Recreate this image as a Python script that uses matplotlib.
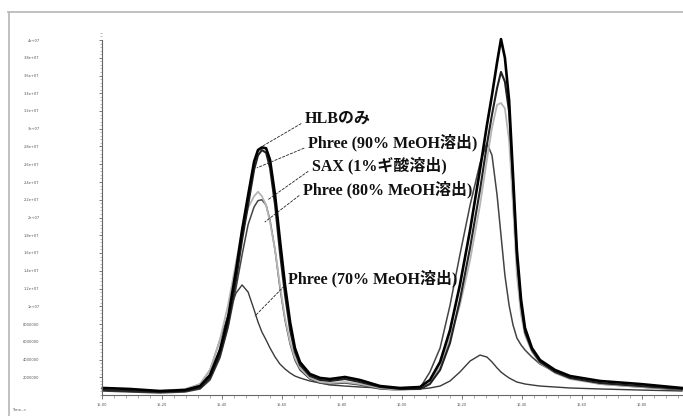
import numpy as np
import matplotlib
matplotlib.use("Agg")
import matplotlib.pyplot as plt
from matplotlib.lines import Line2D
from matplotlib.ticker import MultipleLocator, FuncFormatter

# retention time (min), shared by all traces
time = [15.003, 15.093, 15.193, 15.277, 15.327, 15.360, 15.393, 15.420, 15.447,
        15.467, 15.487, 15.507, 15.520, 15.533, 15.547, 15.560, 15.577, 15.593,
        15.610, 15.627, 15.643, 15.660, 15.693, 15.727, 15.760, 15.810, 15.860,
        15.927, 15.993, 16.060, 16.093, 16.127, 16.160, 16.193, 16.227, 16.260,
        16.283, 16.300, 16.317, 16.330, 16.343, 16.357, 16.370, 16.383, 16.397,
        16.410, 16.433, 16.460, 16.510, 16.560, 16.660, 16.793, 16.933]

# abundance, x1e6 counts
hlb = [0.79, 0.68, 0.45, 0.56, 1.01, 2.25, 5.07, 8.68, 14.1, 18.6, 22.5, 26.3,
       27.6, 27.9, 27.8, 26.5, 22.5, 17.5, 12.4, 8.2, 5.3, 3.7, 2.37, 1.92,
       1.80, 2.03, 1.69, 1.01, 0.79, 0.9, 1.69, 3.72, 7.3, 12.4, 18.6, 25.4,
       30.4, 33.8, 37.5, 40.1, 38.0, 33.2, 24.8, 16.3, 10.7, 7.55, 5.3, 3.94,
       2.82, 2.14, 1.58, 1.24, 0.79]
phree90 = [0.56, 0.45, 0.34, 0.45, 0.79, 1.92, 4.5, 7.9, 13.0, 17.5, 21.4, 25.4,
           27.0, 27.6, 27.3, 25.6, 21.4, 16.1, 11.3, 7.3, 4.85, 3.38, 2.14, 1.69,
           1.58, 1.80, 1.46, 0.9, 0.68, 0.68, 1.24, 2.82, 5.86, 10.7, 16.6, 23.1,
           28.2, 31.6, 34.6, 36.4, 35.3, 31.9, 24.0, 15.4, 10.1, 7.1, 5.07, 3.72,
           2.59, 1.92, 1.35, 1.01, 0.68]
sax = [0.68, 0.56, 0.45, 0.68, 1.24, 2.82, 6.2, 10.1, 15.0, 18.6, 21.1, 22.4,
       22.9, 22.4, 21.4, 19.5, 16.3, 12.4, 8.68, 5.97, 4.17, 3.04, 1.92, 1.46,
       1.35, 1.46, 1.24, 0.79, 0.56, 0.68, 1.35, 3.16, 6.42, 10.1, 15.2, 21.4,
       26.5, 30.1, 32.7, 32.9, 32.3, 28.7, 21.4, 13.5, 9.0, 6.76, 4.85, 3.6,
       2.48, 1.8, 1.24, 0.9, 0.68]
phree80 = [0.45, 0.34, 0.23, 0.34, 0.68, 1.69, 4.17, 7.55, 12.1, 15.8, 19.2, 21.2,
           21.9, 22.0, 21.4, 19.7, 16.3, 12.1, 8.45, 5.75, 3.94, 2.82, 1.8, 1.35,
           1.24, 1.35, 1.13, 0.68, 0.56, 0.79, 2.59, 5.3, 10.1, 15.8, 21.4, 26.1,
           28.4, 27.0, 22.5, 18.0, 13.5, 10.1, 7.9, 6.42, 5.63, 5.07, 4.28, 3.49,
           2.59, 1.92, 1.24, 0.9, 0.56]
phree70 = [0.56, 0.45, 0.34, 0.56, 1.24, 2.82, 6.2, 9.0, 11.5, 12.4, 11.6, 9.6,
           8.23, 7.1, 6.2, 5.3, 4.28, 3.49, 2.93, 2.48, 2.14, 1.92, 1.58, 1.35,
           1.13, 1.01, 0.9, 0.79, 0.68, 0.68, 0.79, 1.01, 1.58, 2.59, 3.83, 4.5,
           4.28, 3.72, 3.04, 2.59, 2.25, 1.92, 1.69, 1.46, 1.35, 1.24, 1.13, 1.01,
           0.9, 0.79, 0.68, 0.56, 0.45]

labels = ["HLBのみ", "Phree (90% MeOH溶出)", "SAX (1%ギ酸溶出)",
          "Phree (80% MeOH溶出)", "Phree (70% MeOH溶出)"]
# point on each trace the leader line goes to (time, x1e6)
leader_pts = [(15.533, 28.0), (15.517, 25.6), (15.553, 22.0),
              (15.543, 19.5), (15.510, 8.9)]
# label anchor (time, x1e6)
label_pos = [(15.677, 31.2), (15.687, 28.4), (15.700, 25.9),
             (15.670, 23.2), (15.620, 13.1)]

xticks = [15.0 + 0.2 * i for i in range(10)]
yticks = [2e6 * i for i in range(1, 21)]

fig = plt.figure(figsize=(6.83, 4.16), dpi=100)
ax = fig.add_axes([102 / 683, 21 / 416, 581 / 683, 365 / 416])

t = np.array(time)
series = [
    (phree70, "#3a3a3a", 1.0),
    (phree80, "#444444", 1.1),
    (sax, "#b5b5b5", 1.3),
    (phree90, "#222222", 1.5),
    (hlb, "#000000", 1.9),
]
for vals, col, lw in series:
    ax.plot(t, np.array(vals) * 1e6, color=col, lw=lw, clip_on=False,
            solid_joinstyle="round")

ax.set_xlim(15.0, 15.0 + 581 / 300)
ax.set_ylim(0, 365 / 355 * 4e7)
ax.spines["top"].set_visible(False)
ax.spines["right"].set_visible(False)
for s in ("left", "bottom"):
    ax.spines[s].set_color("#666666")
    ax.spines[s].set_linewidth(0.8)
ax.spines["left"].set_bounds(0, 4e7)

ax.set_xticks(xticks)
ax.set_xticklabels([f"{v:.2f}" for v in xticks])
ax.xaxis.set_minor_locator(MultipleLocator(0.04))
ax.set_yticks(yticks)
ax.yaxis.set_major_formatter(FuncFormatter(
    lambda v, p: f"{v:g}" if v >= 1e7 else f"{int(v)}"))
ax.yaxis.set_minor_locator(MultipleLocator(4e5))
ax.tick_params(axis="x", which="major", length=3, width=0.6, color="#666666",
               labelsize=2.6, labelcolor="#555555", pad=3)
ax.tick_params(axis="x", which="minor", length=2, width=0.5, color="#888888")
ax.tick_params(axis="y", which="major", length=2, width=0.6, color="#666666",
               labelsize=2.6, labelcolor="#555555", pad=43)
ax.tick_params(axis="y", which="minor", length=1.2, width=0.4, color="#888888")

font = ["Liberation Serif", "Noto Sans CJK JP"]
for lab, pt, pos in zip(labels, leader_pts, label_pos):
    ax.annotate(lab, xy=(pt[0], pt[1] * 1e6), xytext=(pos[0], pos[1] * 1e6),
                ha="left", va="center", fontsize=11.5, fontweight="bold",
                family=font, color="#111111",
                arrowprops=dict(arrowstyle="-", color="#222222", lw=0.6,
                                linestyle=(0, (3, 2)), relpos=(0, 0.3),
                                shrinkA=1, shrinkB=0))

# scanned page frame
fig.add_artist(Line2D([8 / 683, 1], [1 - 12 / 416] * 2, color="#bbbbbb", lw=1.3))
fig.add_artist(Line2D([9 / 683] * 2, [0, 1 - 12 / 416], color="#bbbbbb", lw=1.3))
fig.text(12 / 683, 1 - 410 / 416, "Time-->", fontsize=2.6, color="#555555",
         va="center")

fig.savefig("out.png", dpi=100)
